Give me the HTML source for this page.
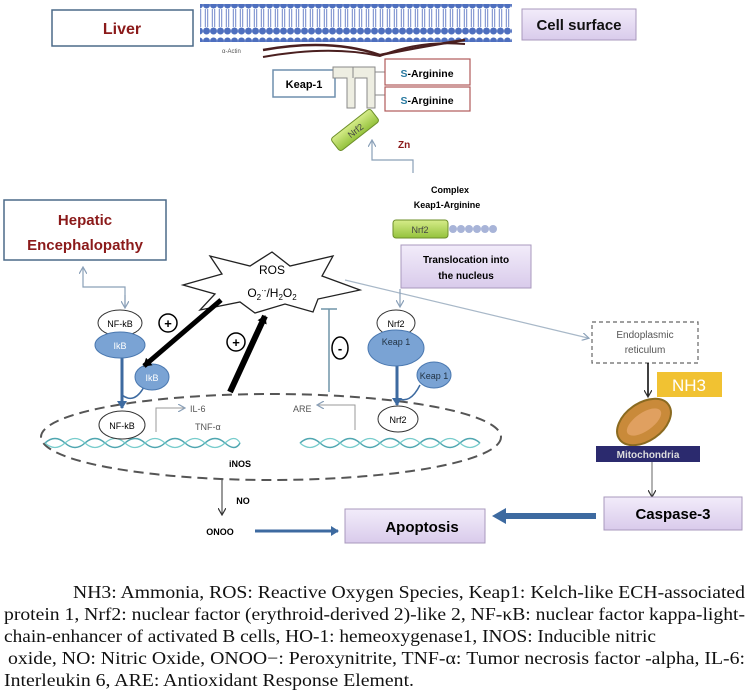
<!DOCTYPE html>
<html><head><meta charset="utf-8"><style>
body{margin:0;background:#fff}
svg{display:block}
.b{font-family:"Liberation Sans",sans-serif;font-weight:bold}
.s{font-family:"Liberation Sans",sans-serif}
.c{font-family:"Liberation Serif",serif;font-size:17.5px;fill:#111}
</style></head><body>
<svg width="750" height="693" viewBox="0 0 750 693" xmlns="http://www.w3.org/2000/svg">
<defs>
<marker id="ag" markerWidth="8" markerHeight="8" refX="6" refY="4" orient="auto" markerUnits="userSpaceOnUse"><path d="M0,0 L7,4 L0,8" fill="none" stroke="#8aa0b8" stroke-width="1.2"/></marker>
<marker id="ak" markerWidth="10" markerHeight="10" refX="7" refY="5" orient="auto" markerUnits="userSpaceOnUse"><path d="M0,0 L8,5 L0,10 z" fill="#000"/></marker>
<marker id="ab" markerWidth="10" markerHeight="10" refX="7" refY="5" orient="auto" markerUnits="userSpaceOnUse"><path d="M0,0 L8,5 L0,10 z" fill="#3d6aa0"/></marker>
<marker id="an" markerWidth="8" markerHeight="8" refX="6" refY="4" orient="auto" markerUnits="userSpaceOnUse"><path d="M0,0 L7,4 L0,8" fill="none" stroke="#333" stroke-width="1.2"/></marker>
<linearGradient id="pg" x1="0" y1="0" x2="0" y2="1"><stop offset="0" stop-color="#f2ecfa"/><stop offset="1" stop-color="#d9cbeb"/></linearGradient>
<linearGradient id="gg" x1="0" y1="0" x2="0" y2="1"><stop offset="0" stop-color="#d6ec8a"/><stop offset="1" stop-color="#94c23c"/></linearGradient>
<pattern id="mem" width="7" height="36" patternUnits="userSpaceOnUse"><ellipse cx="3.5" cy="5" rx="3.5" ry="3.5" fill="#4e6fbf"/><ellipse cx="3.5" cy="31" rx="3.5" ry="3.5" fill="#4e6fbf"/><line x1="2.3" y1="9" x2="2.3" y2="27" stroke="#6f86c9" stroke-width="1"/><line x1="4.7" y1="9" x2="4.7" y2="27" stroke="#6f86c9" stroke-width="1"/></pattern>
</defs>

<rect x="52" y="10" width="141" height="36" fill="#fff" stroke="#4c6a88" stroke-width="1.5"/>
<text x="122" y="34" text-anchor="middle" class="b" font-size="16" fill="#8b1a1a">Liver</text>
<rect x="200" y="4" width="312" height="38" fill="url(#mem)"/>
<text x="222" y="53" class="s" font-size="6" fill="#555">α-Actin</text>
<path d="M263,50 Q330,38 380,55 Q430,45 465,40" fill="none" stroke="#4a1f1f" stroke-width="2.5"/>
<path d="M263,57 Q330,45 380,56 Q420,40 465,44" fill="none" stroke="#4a1f1f" stroke-width="2"/>
<rect x="522" y="9" width="114" height="31" fill="url(#pg)" stroke="#a898bd"/>
<text x="579" y="30" text-anchor="middle" class="b" font-size="15" fill="#111">Cell surface</text>

<rect x="273" y="70" width="62" height="27" fill="#fff" stroke="#6f8fae" stroke-width="1.5"/>
<text x="304" y="88" text-anchor="middle" class="b" font-size="11">Keap-1</text>
<path d="M333,67 h42 v41 h-8 v-30 h-12 v30 h-8 v-30 h-14 z" fill="#eeeee2" stroke="#888" />
<line x1="353" y1="67" x2="353" y2="78" stroke="#888"/>
<line x1="375" y1="72" x2="385" y2="72" stroke="#888"/>
<line x1="375" y1="95" x2="385" y2="95" stroke="#888"/>
<rect x="385" y="59" width="85" height="26" fill="#fff" stroke="#b05a5a" stroke-width="1.2"/>
<rect x="385" y="87" width="85" height="24" fill="#fff" stroke="#b05a5a" stroke-width="1.2"/>
<text x="427" y="77" text-anchor="middle" class="b" font-size="10.5"><tspan fill="#2a7aa0">S</tspan>-Arginine</text>
<text x="427" y="104" text-anchor="middle" class="b" font-size="10.5"><tspan fill="#2a7aa0">S</tspan>-Arginine</text>
<g transform="rotate(-38 355 130)"><rect x="330" y="122" width="50" height="16" rx="3" fill="url(#gg)" stroke="#6d8f2a"/><text x="355" y="134" text-anchor="middle" class="s" font-size="9" fill="#444">Nrf2</text></g>
<text x="398" y="148" class="b" font-size="10" fill="#8b1a1a">Zn</text>
<path d="M413,173 V160 H372 V141" fill="none" stroke="#8aa0b8" stroke-width="1.2" marker-end="url(#ag)"/>
<text x="450" y="193" text-anchor="middle" class="b" font-size="9">Complex</text>
<text x="447" y="208" text-anchor="middle" class="b" font-size="9">Keap1-Arginine</text>
<rect x="393" y="220" width="55" height="18" rx="3" fill="url(#gg)" stroke="#6d8f2a"/>
<text x="420" y="233" text-anchor="middle" class="s" font-size="9" fill="#444">Nrf2</text>
<g fill="#a8b4d8"><circle cx="453" cy="229" r="4"/><circle cx="461" cy="229" r="4"/><circle cx="469" cy="229" r="4"/><circle cx="477" cy="229" r="4"/><circle cx="485" cy="229" r="4"/><circle cx="493" cy="229" r="4"/></g>
<rect x="401" y="245" width="130" height="43" fill="url(#pg)" stroke="#a898bd"/>
<text x="466" y="263" text-anchor="middle" class="b" font-size="10">Translocation into</text>
<text x="466" y="279" text-anchor="middle" class="b" font-size="10">the nucleus</text>

<rect x="4" y="200" width="162" height="60" fill="#fff" stroke="#4c6a88" stroke-width="1.5"/>
<text x="85" y="225" text-anchor="middle" class="b" font-size="15" fill="#8b1a1a">Hepatic</text>
<text x="85" y="250" text-anchor="middle" class="b" font-size="15" fill="#8b1a1a">Encephalopathy</text>
<path d="M125,306 V287 H83 V268" fill="none" stroke="#8aa0b8" stroke-width="1.2" marker-end="url(#ag)"/>
<line x1="125" y1="295" x2="125" y2="307" stroke="#8aa0b8" stroke-width="1.2" marker-end="url(#ag)"/>

<polygon points="272,252 290,266 333,256 322,276 360,290 318,299 313,312 285,304 255,313 240,302 200,310 215,294 183,285 222,274 210,256 250,266" fill="#fff" stroke="#222" stroke-width="1.3"/>
<text x="272" y="274" text-anchor="middle" class="s" font-size="12">ROS</text>
<text x="272" y="297" text-anchor="middle" class="s" font-size="12">O<tspan font-size="8" dy="3">2</tspan><tspan font-size="8" dy="-7">·-</tspan><tspan dy="4">/H</tspan><tspan font-size="8" dy="3">2</tspan><tspan dy="-3">O</tspan><tspan font-size="8" dy="3">2</tspan></text>
<line x1="345" y1="280" x2="588" y2="338" stroke="#a8b8c8" stroke-width="1.2" marker-end="url(#ag)"/>

<ellipse cx="271" cy="437" rx="230" ry="43" fill="none" stroke="#555" stroke-width="2" stroke-dasharray="10,6"/>
<path d="M45,443 q10,-9 20,0 t20,0 t20,0 t20,0 t20,0 t20,0 t20,0 t20,0 t20,0 t15,0 M300,443 q10,-9 20,0 t20,0 t20,0 t20,0 t20,0 t20,0 t20,0 t20,0 t20,0" fill="none" stroke="#4fa6b0" stroke-width="1.5"/>
<path d="M45,443 q10,9 20,0 t20,0 t20,0 t20,0 t20,0 t20,0 t20,0 t20,0 t20,0 t15,0 M300,443 q10,9 20,0 t20,0 t20,0 t20,0 t20,0 t20,0 t20,0 t20,0 t20,0" fill="none" stroke="#7cc" stroke-width="1.2"/>

<line x1="122" y1="345" x2="122" y2="408" stroke="#3d6aa0" stroke-width="3" marker-end="url(#ab)"/>
<path d="M122,395 Q135,405 145,385" fill="none" stroke="#3d6aa0" stroke-width="1.5"/>
<ellipse cx="120" cy="323" rx="22" ry="13" fill="#fff" stroke="#333"/>
<text x="120" y="327" text-anchor="middle" class="s" font-size="9">NF-kB</text>
<ellipse cx="120" cy="345" rx="25" ry="13" fill="#7aa3d4" stroke="#4a78b0"/>
<text x="120" y="349" text-anchor="middle" class="s" font-size="9" fill="#fff">IkB</text>
<ellipse cx="152" cy="377" rx="17" ry="13" fill="#7aa3d4" stroke="#4a78b0"/>
<text x="152" y="381" text-anchor="middle" class="s" font-size="9" fill="#fff">IkB</text>
<ellipse cx="122" cy="425" rx="23" ry="14" fill="#fff" stroke="#333"/>
<text x="122" y="429" text-anchor="middle" class="s" font-size="9">NF-kB</text>
<path d="M156,432 V408 H184" fill="none" stroke="#999" stroke-width="1" marker-end="url(#ag)"/>
<text x="190" y="412" class="s" font-size="9" fill="#555">IL-6</text>
<text x="195" y="430" class="s" font-size="9" fill="#555">TNF-α</text>

<line x1="221" y1="300" x2="144" y2="366" stroke="#000" stroke-width="5" marker-end="url(#ak)"/>
<line x1="230" y1="392" x2="265" y2="316" stroke="#000" stroke-width="6" marker-end="url(#ak)"/>
<circle cx="168" cy="323" r="9" fill="#fff" stroke="#000" stroke-width="1.5"/><text x="168" y="328" text-anchor="middle" class="b" font-size="13">+</text>
<circle cx="236" cy="342" r="9" fill="#fff" stroke="#000" stroke-width="1.5"/><text x="236" y="347" text-anchor="middle" class="b" font-size="13">+</text>
<ellipse cx="340" cy="348" rx="8" ry="11" fill="#fff" stroke="#000" stroke-width="1.5"/><text x="340" y="353" text-anchor="middle" class="b" font-size="13">-</text>
<line x1="329" y1="309" x2="329" y2="392" stroke="#6f94a8" stroke-width="1.5"/>
<line x1="321" y1="309" x2="337" y2="309" stroke="#6f94a8" stroke-width="1.5"/>
<path d="M355,430 V405 H318" fill="none" stroke="#999" stroke-width="1" marker-end="url(#ag)"/>
<text x="293" y="412" class="s" font-size="9" fill="#555">ARE</text>

<line x1="400" y1="289" x2="400" y2="306" stroke="#8aa0b8" stroke-width="1.2" marker-end="url(#ag)"/>
<line x1="397" y1="350" x2="397" y2="405" stroke="#3d6aa0" stroke-width="3" marker-end="url(#ab)"/>
<path d="M397,398 Q410,405 420,385" fill="none" stroke="#3d6aa0" stroke-width="1.5"/>
<ellipse cx="396" cy="323" rx="19" ry="13" fill="#fff" stroke="#333"/>
<text x="396" y="327" text-anchor="middle" class="s" font-size="9">Nrf2</text>
<ellipse cx="396" cy="348" rx="28" ry="18" fill="#7aa3d4" stroke="#4a78b0"/>
<text x="396" y="345" text-anchor="middle" class="s" font-size="9" fill="#234">Keap 1</text>
<ellipse cx="434" cy="375" rx="17" ry="13" fill="#7aa3d4" stroke="#4a78b0"/>
<text x="434" y="379" text-anchor="middle" class="s" font-size="9" fill="#234">Keap 1</text>
<ellipse cx="398" cy="419" rx="20" ry="13" fill="#fff" stroke="#333"/>
<text x="398" y="423" text-anchor="middle" class="s" font-size="9">Nrf2</text>

<text x="240" y="467" text-anchor="middle" class="b" font-size="9">iNOS</text>
<line x1="222" y1="480" x2="222" y2="514" stroke="#333" stroke-width="1" marker-end="url(#an)"/>
<text x="243" y="504" text-anchor="middle" class="b" font-size="9">NO</text>
<text x="220" y="535" text-anchor="middle" class="b" font-size="9">ONOO</text>
<line x1="255" y1="531" x2="338" y2="531" stroke="#3d6aa0" stroke-width="3" marker-end="url(#ab)"/>
<rect x="345" y="509" width="140" height="34" fill="url(#pg)" stroke="#a898bd"/>
<text x="422" y="532" text-anchor="middle" class="b" font-size="15">Apoptosis</text>
<line x1="596" y1="516" x2="505" y2="516" stroke="#3d6aa0" stroke-width="6"/>
<polygon points="492,516 506,508 506,524" fill="#3d6aa0"/>

<rect x="592" y="322" width="106" height="41" fill="#fff" stroke="#666" stroke-dasharray="4,3" stroke-width="1.2"/>
<text x="645" y="338" text-anchor="middle" class="s" font-size="10" fill="#555">Endoplasmic</text>
<text x="645" y="353" text-anchor="middle" class="s" font-size="10" fill="#555">reticulum</text>
<line x1="648" y1="363" x2="648" y2="396" stroke="#000" stroke-width="1.5" marker-end="url(#an)"/>
<rect x="657" y="372" width="65" height="25" fill="#f1c232"/>
<text x="689" y="391" text-anchor="middle" class="s" font-size="17" fill="#fff">NH3</text>
<ellipse cx="644" cy="422" rx="30" ry="19" transform="rotate(-35 644 422)" fill="#c98a3a" stroke="#8a6a20" stroke-width="2"/>
<ellipse cx="644" cy="422" rx="20" ry="9" transform="rotate(-35 644 422)" fill="#e0a060"/>
<rect x="596" y="446" width="104" height="16" fill="#2b2a6e"/>
<text x="648" y="458" text-anchor="middle" class="b" font-size="10" fill="#ddd">Mitochondria</text>
<line x1="652" y1="462" x2="652" y2="496" stroke="#666" stroke-width="1" marker-end="url(#an)"/>
<rect x="604" y="497" width="138" height="33" fill="url(#pg)" stroke="#a898bd"/>
<text x="673" y="519" text-anchor="middle" class="b" font-size="15">Caspase-3</text>

<text class="c" x="73" y="598" textLength="672" lengthAdjust="spacingAndGlyphs">NH3: Ammonia, ROS: Reactive Oxygen Species, Keap1: Kelch-like ECH-associated</text>
<text class="c" x="4" y="620" textLength="741" lengthAdjust="spacingAndGlyphs">protein 1, Nrf2: nuclear factor (erythroid-derived 2)-like 2, NF-κB: nuclear factor kappa-light-</text>
<text class="c" x="4" y="642" textLength="652" lengthAdjust="spacingAndGlyphs">chain-enhancer of  activated  B  cells,  HO-1:  hemeoxygenase1,  INOS:  Inducible  nitric</text>
<text class="c" x="8" y="664" textLength="737" lengthAdjust="spacingAndGlyphs">oxide, NO:  Nitric  Oxide, ONOO−: Peroxynitrite, TNF-α: Tumor necrosis factor -alpha, IL-6:</text>
<text class="c" x="4" y="686" textLength="410" lengthAdjust="spacingAndGlyphs">Interleukin 6, ARE: Antioxidant Response Element.</text>
</svg>
</body></html>
